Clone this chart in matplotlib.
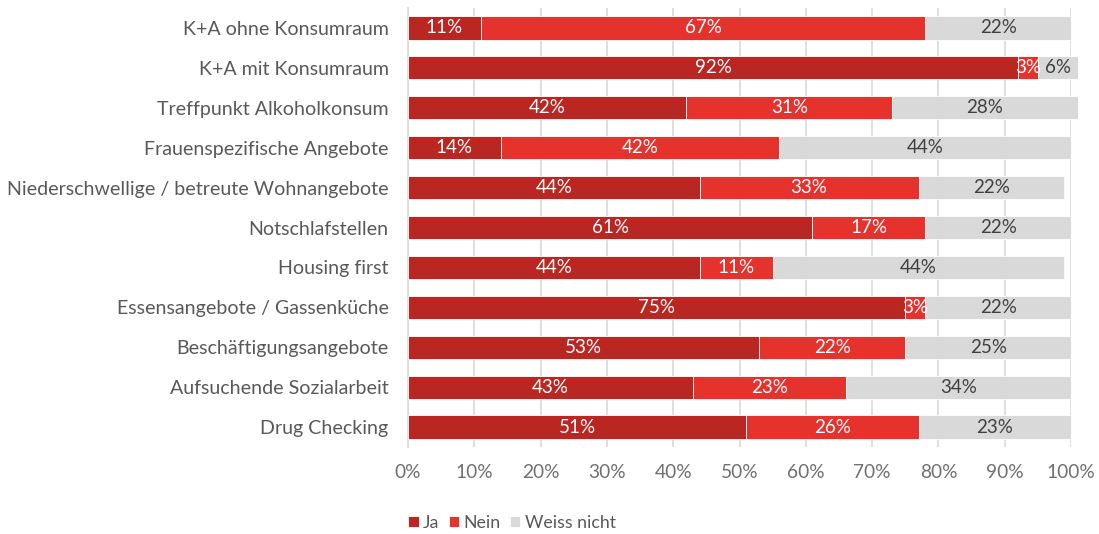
import matplotlib.pyplot as plt
import numpy as np

plt.rcParams['font.family'] = ['Lato', 'DejaVu Sans']

# data (percent), top to bottom
categories = ['K+A ohne Konsumraum', 'K+A mit Konsumraum', 'Treffpunkt Alkoholkonsum',
              'Frauenspezifische Angebote', 'Niederschwellige / betreute Wohnangebote',
              'Notschlafstellen', 'Housing first', 'Essensangebote / Gassenküche',
              'Beschäftigungsangebote', 'Aufsuchende Sozialarbeit', 'Drug Checking']
ja = [11, 92, 42, 14, 44, 61, 44, 75, 53, 43, 51]
nein = [67, 3, 31, 42, 33, 17, 11, 3, 22, 23, 26]
weiss = [22, 6, 28, 44, 22, 22, 44, 22, 25, 34, 23]

series = [('Ja', ja, '#BA2621', 'white'),
          ('Nein', nein, '#E5322C', 'white'),
          ('Weiss nicht', weiss, '#D9D9D9', '#404040')]

fig = plt.figure(figsize=(10.99, 5.34), dpi=100)
ax = fig.add_axes([408/1099, 1 - 447/534, (1071-408)/1099, 439/534])

y = np.arange(len(categories))
left = np.zeros(len(categories))
for name, vals, col, tcol in series:
    vals = np.array(vals, dtype=float)
    bars = ax.barh(y, vals, left=left, height=0.58, color=col, label=name,
                   edgecolor='white', linewidth=0.6, zorder=3)
    for b, v in zip(bars, vals):
        b.set_clip_on(False)
        ax.text(b.get_x() + b.get_width() / 2, b.get_y() + b.get_height() / 2,
                f'{int(v)}%', ha='center', va='center', color=tcol,
                fontsize=13.5, zorder=4)
    left += vals

ax.set_xlim(0, 100)
ax.set_ylim(len(categories) - 0.5, -0.5)
ax.set_yticks(y)
ax.set_yticklabels(categories, fontsize=14.1, color='#595959')
ax.set_xticks(np.arange(0, 101, 10))
ax.set_xticklabels([f'{t}%' for t in range(0, 101, 10)], fontsize=13.8, color='#707070')
ax.tick_params(axis='y', length=0, pad=14)
ax.tick_params(axis='x', length=0, pad=12)
ax.xaxis.grid(True, color='#D9D9D9', linewidth=1.2, zorder=0)
for s in ['top', 'right', 'bottom']:
    ax.spines[s].set_visible(False)
ax.spines['left'].set_color('#D9D9D9')
ax.spines['left'].set_linewidth(1.2)

fig.legend(loc='center', bbox_to_anchor=(512/1099, 1 - 523/534), ncol=3,
           frameon=False, fontsize=12.8, handlelength=0.6, handleheight=0.6,
           handletextpad=0.25, columnspacing=0.5, labelcolor='#595959')

plt.savefig('out.png', dpi=100)
